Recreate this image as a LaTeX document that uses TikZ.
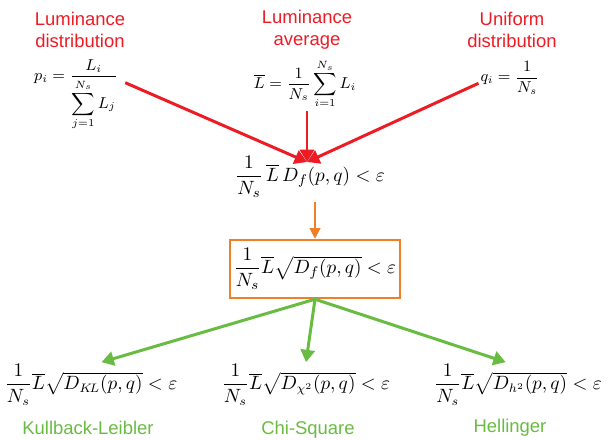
\documentclass[tikz,border=0pt]{standalone}
\usepackage{amsmath,amssymb}
\usepackage{fontspec}
\newfontfamily\labelfont{Liberation Sans}
\usetikzlibrary{arrows.meta, positioning}
\definecolor{lumred}{RGB}{237,28,36}
\definecolor{boxorange}{RGB}{240,128,40}
\definecolor{divgreen}{RGB}{104,188,66}

\begin{document}
\begin{tikzpicture}[x=0.02cm, y=-0.02cm, every node/.style={font=\fontsize{10.5}{12.5}\selectfont},
    redtitle/.style={text=lumred, align=center, font=\labelfont\fontsize{10.5}{12.5}\selectfont},
    greentitle/.style={text=divgreen, align=center, font=\labelfont\fontsize{10.5}{12.5}\selectfont},
    redarrow/.style={draw=lumred, line width=1.7pt, -{Triangle[length=7pt,width=8pt]}},
    greenarrow/.style={draw=divgreen, line width=1.7pt, -{Triangle[length=7pt,width=8pt]}}]
	\useasboundingbox (0,0) rectangle (610,440);
	% Titel oben
	\node[redtitle] (tdist) at (80,30) {Luminance\\distribution};
	\node[redtitle] (tavg) at (307,30) {Luminance\\average};
	\node[redtitle] (tunif) at (512,30) {Uniform\\distribution};
	
	% Formeln oben
	\node[font=\small, inner sep=1pt] (pdist) at (76,95) {$\displaystyle p_i=\frac{L_i}{\displaystyle\sum_{j=1}^{N_s} L_j}$};
	\node[font=\small, inner sep=1pt] (lavg) at (305,84) {$\displaystyle\overline{L}=\frac{1}{N_s}\sum_{i=1}^{N_s}L_i$};
	\node[font=\small, inner sep=1pt] (qunif) at (510,78) {$\displaystyle q_i=\frac{1}{N_s}$};
	
	% Mitte
	\node[font=\fontsize{11}{13}\selectfont, inner sep=2pt] (df) at (310,177) {$\dfrac{1}{N_s}\,\overline{L}\,D_f(p,q)<\varepsilon$};
	\node[font=\fontsize{11}{13}\selectfont, draw=boxorange, line width=1.4pt, inner sep=2pt, minimum width=3.32cm, minimum height=1.16cm] (sqdf) at (315,269) {$\dfrac{1}{N_s}\overline{L}\sqrt{D_f(p,q)}<\varepsilon$};
	
	% Formeln unten
	\node[inner sep=2pt] (dkl) at (91,385) {$\dfrac{1}{N_s}\overline{L}\sqrt{D_{K\!L}(p,q)}<\varepsilon$};
	\node[inner sep=2pt] (dchi) at (306,385) {$\dfrac{1}{N_s}\overline{L}\sqrt{D_{\chi^2}(p,q)}<\varepsilon$};
	\node[inner sep=2pt] (dhel) at (518,385) {$\dfrac{1}{N_s}\overline{L}\sqrt{D_{h^2}(p,q)}<\varepsilon$};
	
	% Namen unten
	\node[greentitle] (tkl) at (88,428) {Kullback-Leibler};
	\node[greentitle] (tchi) at (308,430) {Chi-Square};
	\node[greentitle] (thel) at (510,428) {Hellinger};
	
	% Pfeile
	\coordinate (meet) at (307,162);
	\draw[redarrow] ([xshift=3pt,yshift=7pt]pdist.east) -- (meet);
	\draw[redarrow] (lavg.south -| meet) -- (meet);
	\draw[redarrow] ([yshift=-3pt]qunif.west) -- (meet);
	\draw[draw=boxorange, line width=1.1pt, -{Triangle[length=6pt,width=6pt]}] (df.south -| sqdf.north) -- (sqdf.north);
	\draw[greenarrow] (sqdf.south) -- ([xshift=6pt,yshift=-1pt]dkl.north);
	\draw[greenarrow] (sqdf.south) -- ([yshift=-1pt]dchi.north);
	\draw[greenarrow] (sqdf.south) -- ([xshift=-7pt,yshift=-1pt]dhel.north);
\end{tikzpicture}
\end{document}
